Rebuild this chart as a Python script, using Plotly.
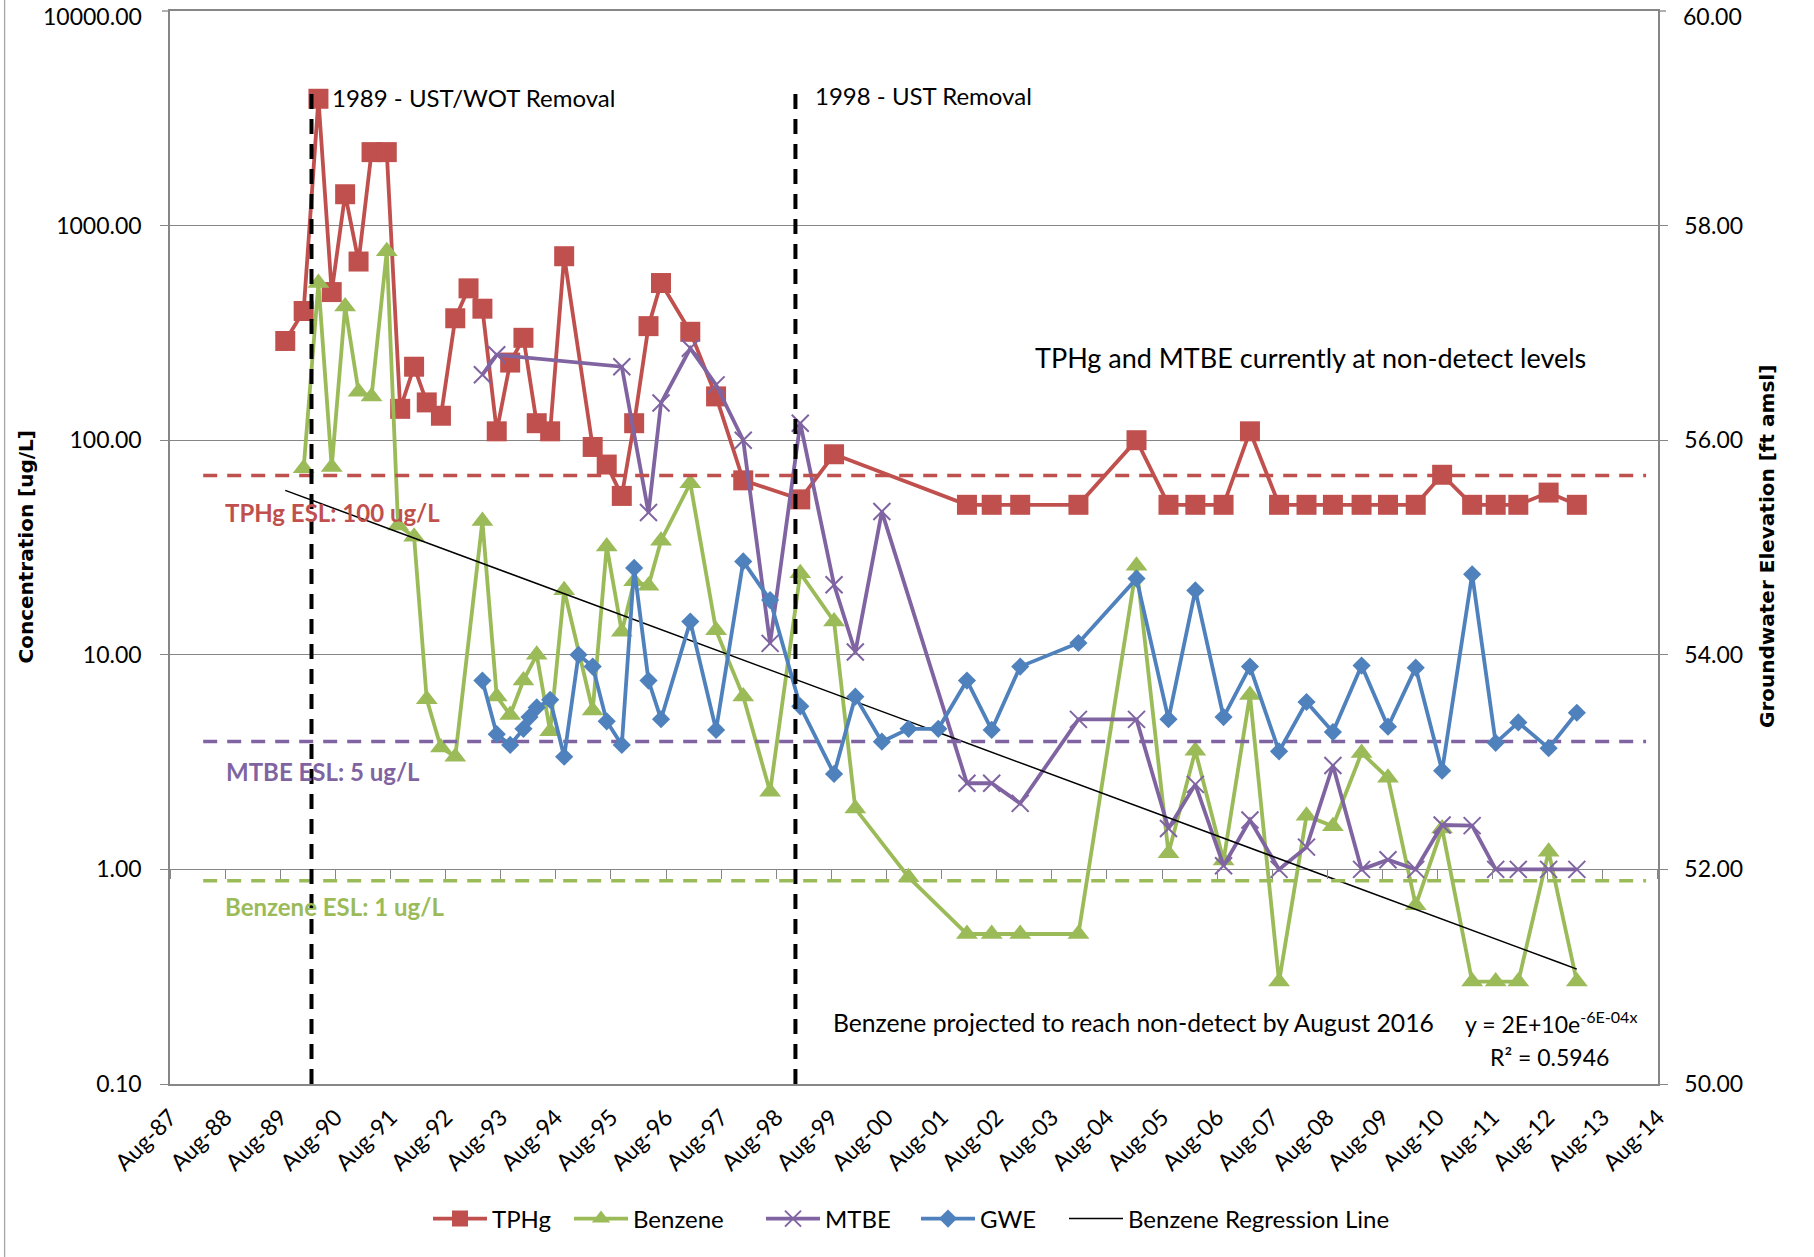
import numpy as np
import pandas as pd
import plotly.graph_objects as go

# ---------------- sampling data ----------------
tphg_dates = [
    "1989-09-02", "1990-01-02", "1990-04-10", "1990-07-07", "1990-10-04", "1991-01-01",
    "1991-03-28", "1991-07-07", "1991-10-04", "1992-01-04", "1992-03-28", "1992-06-30",
    "1992-10-03", "1992-12-30", "1993-04-01", "1993-07-05", "1993-10-02", "1993-12-29",
    "1994-03-27", "1994-06-24", "1994-09-25", "1995-04-02", "1995-07-04", "1995-10-12",
    "1996-01-02", "1996-04-06", "1996-06-28", "1997-01-08", "1997-06-28", "1997-12-25",
    "1999-01-07", "1999-08-19", "2002-01-16", "2002-06-29", "2003-01-04", "2004-01-25",
    "2005-02-13", "2005-09-13", "2006-03-10", "2006-09-13", "2007-03-07", "2007-09-16",
    "2008-03-16", "2008-09-07", "2009-03-16", "2009-09-07", "2010-03-10", "2010-09-01",
    "2011-03-19", "2011-08-22", "2012-01-19", "2012-08-07", "2013-02-10",
]
tphg_ugl = [
    290, 400, 3900, 490, 1400, 680,
    2200, 2200, 140, 220, 150, 130,
    370, 510, 410, 110, 230, 300,
    120, 110, 720, 93, 77, 55,
    120, 340, 540, 320, 160, 65,
    53, 86, 50, 50, 50, 50,
    100, 50, 50, 50, 110, 50,
    50, 50, 50, 50, 50, 69,
    50, 50, 50, 57, 50,
]

benzene_dates = [
    "1990-01-02", "1990-04-10", "1990-07-07", "1990-10-04", "1991-01-01", "1991-03-28",
    "1991-07-07", "1991-09-20", "1992-01-04", "1992-03-28", "1992-06-30", "1992-10-03",
    "1993-04-01", "1993-07-05", "1993-10-02", "1993-12-29", "1994-03-27", "1994-06-24",
    "1994-09-25", "1995-04-02", "1995-07-04", "1995-10-12", "1996-01-02", "1996-04-06",
    "1996-06-28", "1997-01-08", "1997-06-28", "1997-12-25", "1998-06-21", "1999-01-07",
    "1999-08-19", "2000-01-07", "2000-12-25", "2002-01-16", "2002-06-29", "2003-01-04",
    "2004-01-25", "2005-02-13", "2005-09-13", "2006-03-10", "2006-09-13", "2007-03-07",
    "2007-09-16", "2008-03-16", "2008-09-07", "2009-03-16", "2009-09-07", "2010-03-10",
    "2010-09-01", "2011-03-19", "2011-08-22", "2012-01-19", "2012-08-07", "2013-02-10",
]
benzene_ugl = [
    74, 540, 75, 420, 168, 160,
    760, 40, 35.5, 6.2, 3.7, 3.35,
    42, 6.4, 5.24, 7.6, 10, 4.4,
    20, 5.5, 32, 12.8, 22, 21,
    34, 63, 13, 6.4, 2.3, 24,
    14.3, 1.92, 0.92, 0.5, 0.5, 0.5,
    0.5, 26, 1.19, 3.57, 1.1, 6.5,
    0.3, 1.78, 1.59, 3.49, 2.67, 0.68,
    1.55, 0.3, 0.3, 0.3, 1.21, 0.3,
]

mtbe_dates = [
    "1993-04-01", "1993-07-05", "1995-10-12", "1996-04-06", "1996-06-28", "1997-01-08",
    "1997-06-28", "1997-12-25", "1998-06-21", "1999-01-07", "1999-08-19", "2000-01-07",
    "2000-07-01", "2002-01-16", "2002-06-29", "2003-01-04", "2004-01-25", "2005-02-13",
    "2005-09-13", "2006-03-10", "2006-09-13", "2007-03-07", "2007-09-16", "2008-03-16",
    "2008-09-07", "2009-03-16", "2009-09-07", "2010-03-10", "2010-09-01", "2011-03-19",
    "2011-08-22", "2012-01-19", "2012-08-07", "2013-02-10",
]
mtbe_ugl = [
    202, 250, 220, 46, 149, 268,
    181, 100, 11.3, 120, 21.2, 10.3,
    46.5, 2.52, 2.52, 2.03, 5.0, 5.0,
    1.55, 2.49, 1.04, 1.7, 1.0, 1.27,
    3.05, 1.0, 1.11, 1.0, 1.61, 1.6,
    1.0, 1.0, 1.0, 1.0,
]

gwe_dates = [
    "1993-04-01", "1993-07-05", "1993-10-02", "1993-12-29", "1994-02-07", "1994-03-27",
    "1994-06-24", "1994-09-25", "1994-12-29", "1995-04-02", "1995-07-04", "1995-10-12",
    "1996-01-02", "1996-04-06", "1996-06-28", "1997-01-08", "1997-06-28", "1997-12-25",
    "1998-06-21", "1999-01-07", "1999-08-19", "2000-01-07", "2000-07-01", "2000-12-25",
    "2001-07-10", "2002-01-16", "2002-06-29", "2003-01-04", "2004-01-25", "2005-02-13",
    "2005-09-13", "2006-03-10", "2006-09-13", "2007-03-07", "2007-09-16", "2008-03-16",
    "2008-09-07", "2009-03-16", "2009-09-07", "2010-03-10", "2010-09-01", "2011-03-19",
    "2011-08-22", "2012-01-19", "2012-08-07", "2013-02-10",
]
gwe_ft = [
    53.76, 53.26, 53.16, 53.31, 53.42, 53.51,
    53.58, 53.05, 54.00, 53.89, 53.38, 53.16,
    54.81, 53.76, 53.40, 54.31, 53.30, 54.87,
    54.51, 53.52, 52.89, 53.61, 53.19, 53.31,
    53.31, 53.76, 53.30, 53.89, 54.11, 54.71,
    53.40, 54.60, 53.42, 53.89, 53.10, 53.56,
    53.28, 53.90, 53.33, 53.88, 52.92, 54.75,
    53.18, 53.37, 53.13, 53.46,
]

# exponential benzene trend  y = a * exp(-b * x), x = spreadsheet day number
reg_a = 2e10
reg_b = 6e-4

# screening levels drawn as dashed guides
tphg_esl_line = 68.5
mtbe_esl_line = 3.94
benzene_esl_line = 0.885
esl_start, esl_end = "1988-03-07", "2014-05-15"

# removal events
event_dates = ["1990-02-23", "1998-12-06"]
event_labels = ["1989 - UST/WOT Removal", "1998 - UST Removal"]

# axis ticks
conc_ticks = [0.1, 1, 10, 100, 1000, 10000]
conc_ticktext = ["0.10", "1.00", "10.00", "100.00", "1000.00", "10000.00"]
gwe_ticks = [50, 52, 54, 56, 58, 60]
gwe_ticktext = ["50.00", "52.00", "54.00", "56.00", "58.00", "60.00"]

x_range = ["1987-07-31", "2014-08-02"]

# ---------------- styling ----------------
RED, GREEN, PURPLE, BLUE = "#C0504D", "#9BBB59", "#8064A2", "#4F81BD"
GRID = "#868686"
FONT = "Lato"

W, H = 1814, 1257
ML, MR, MT, MB = 170, 156, 11, 173
PW, PH = W - ML - MR, H - MT - MB
TICKLEN = 8


def px(x):
    return (x - ML) / PW


def py(y):
    return (H - MB - y) / PH


def day_number(dates):
    return np.asarray((pd.to_datetime(dates) - pd.Timestamp("1899-12-30")).days, dtype=float)


reg_dates = pd.date_range(tphg_dates[0], tphg_dates[-1], periods=80)
reg_vals = reg_a * np.exp(-reg_b * day_number(reg_dates))

fig = go.Figure()

fig.add_trace(go.Scatter(
    x=tphg_dates, y=tphg_ugl, name="TPHg", mode="lines+markers", legend="legend",
    line=dict(color=RED, width=3.8),
    marker=dict(symbol="square", size=20, color=RED, line=dict(width=0)),
))
fig.add_trace(go.Scatter(
    x=benzene_dates, y=benzene_ugl, name="Benzene", mode="lines+markers", legend="legend2",
    line=dict(color=GREEN, width=3.8),
    marker=dict(symbol="triangle-up", size=19, color=GREEN, line=dict(width=0)),
))
fig.add_trace(go.Scatter(
    x=mtbe_dates, y=mtbe_ugl, name="MTBE", mode="lines+markers", legend="legend3",
    line=dict(color=PURPLE, width=3.8),
    marker=dict(symbol="x-thin", size=17, color=PURPLE, line=dict(width=2, color=PURPLE)),
))
fig.add_trace(go.Scatter(
    x=reg_dates, y=reg_vals, name="Benzene Regression Line", mode="lines", legend="legend5",
    line=dict(color="black", width=1.5),
))

for lvl, col in [(tphg_esl_line, RED), (mtbe_esl_line, PURPLE), (benzene_esl_line, GREEN)]:
    fig.add_trace(go.Scatter(
        x=[esl_start, esl_end], y=[lvl, lvl], mode="lines", showlegend=False,
        hoverinfo="skip", line=dict(color=col, width=3.5, dash="14px,10px"),
    ))

fig.add_trace(go.Scatter(
    x=gwe_dates, y=gwe_ft, name="GWE", mode="lines+markers", legend="legend4", yaxis="y2",
    line=dict(color=BLUE, width=3.8),
    marker=dict(symbol="diamond", size=14, color=BLUE, line=dict(width=0)),
))

# carrier for the tick marks along the 1.00 line
fig.add_trace(go.Scatter(
    x=[x_range[0]], y=[None], xaxis="x2", yaxis="y", showlegend=False,
    hoverinfo="skip", mode="markers",
))

# ---------------- axes ----------------
# the topmost ticks (at the frame edge) are written as notes and small strokes
# so their labels stay inside the page
fig.update_layout(
    width=W, height=H,
    margin=dict(l=ML, r=MR, t=MT, b=MB, pad=0, autoexpand=False),
    paper_bgcolor="white", plot_bgcolor="white",
    font=dict(family=FONT, size=22, color="black"),
    xaxis=dict(
        type="date", range=x_range, tick0="1987-08-01", dtick="M12", tickformat="%b-%y",
        tickangle=-45, ticks="", showgrid=False, zeroline=False,
        showline=True, mirror=True, linecolor=GRID, linewidth=1.5, automargin=False,
        tickfont=dict(size=23), ticklabelstandoff=9, ticklabeloverflow="allow",
    ),
    xaxis2=dict(
        type="date", range=x_range, tick0="1987-08-01", dtick="M12",
        overlaying="x", anchor="free", position=0.2, side="bottom", automargin=False,
        ticks="outside", ticklen=9, tickwidth=1.3, tickcolor=GRID,
        showticklabels=False, showgrid=False, showline=False, zeroline=False,
    ),
    yaxis=dict(
        type="log", range=[-1, 4], automargin=False,
        tickvals=conc_ticks[:-1], ticktext=conc_ticktext[:-1],
        showgrid=True, gridcolor=GRID, gridwidth=1.3, zeroline=False,
        showline=True, linecolor=GRID, linewidth=1.5,
        ticks="outside", ticklen=TICKLEN, tickwidth=1.3, tickcolor=GRID,
        ticklabelstandoff=14, tickfont=dict(size=23),
    ),
    yaxis2=dict(
        overlaying="y", side="right", range=[50, 60], automargin=False,
        tickvals=gwe_ticks[:-1], ticktext=gwe_ticktext[:-1],
        showgrid=False, zeroline=False,
        showline=True, linecolor=GRID, linewidth=1.5,
        ticks="outside", ticklen=TICKLEN, tickwidth=1.3, tickcolor=GRID,
        ticklabelstandoff=12, tickfont=dict(size=23),
    ),
    showlegend=True,
)

# one legend box per entry, laid out in a row under the axis
legend_left = [428, 569, 761, 916, 1064]
for i, left in enumerate(legend_left):
    key = "legend" if i == 0 else f"legend{i + 1}"
    fig.update_layout({key: dict(
        orientation="h", x=px(left), xanchor="left", y=py(1219), yanchor="middle",
        font=dict(size=24), itemwidth=54, bgcolor="rgba(0,0,0,0)",
    )})

# ---------------- event lines, top ticks and outer frame ----------------
shapes = []
for d in event_dates:
    shapes.append(dict(
        type="line", xref="x", yref="paper", x0=d, x1=d, y0=0, y1=py(86),
        line=dict(color="black", width=4, dash="15px,10px"), layer="above",
    ))
for x0, x1 in [(ML - TICKLEN, ML), (W - MR, W - MR + TICKLEN)]:
    shapes.append(dict(
        type="line", xref="paper", yref="paper", x0=px(x0), x1=px(x1), y0=1, y1=1,
        line=dict(color=GRID, width=1.3),
    ))
shapes.append(dict(
    type="line", xref="paper", yref="paper", x0=px(4.6), x1=px(4.6), y0=py(H), y1=py(0),
    line=dict(color="#a6a6a6", width=1.3),
))
fig.update_layout(shapes=shapes)

# ---------------- text ----------------
ann = []


def note(text, x, y, size=24, color="black", bold=False, xanchor="left", angle=0,
         family=FONT, yanchor="middle"):
    ann.append(dict(
        text=f"<b>{text}</b>" if bold else text,
        xref="paper", yref="paper", x=px(x), y=py(y),
        xanchor=xanchor, yanchor=yanchor, showarrow=False, textangle=angle,
        font=dict(size=size, color=color, family=family),
    ))


note(conc_ticktext[-1], 144, 0.5, size=23, xanchor="right", yanchor="top")
note(gwe_ticktext[-1], 1681, 0.5, size=23, xanchor="left", yanchor="top")
note(event_labels[0], 330, 97.5)
note(event_labels[1], 813, 95.5)
note("TPHg and MTBE currently at non-detect levels", 1033, 358, size=27)
note("TPHg ESL: 100 ug/L", 223, 512, size=24, color=RED, bold=True)
note("MTBE ESL: 5 ug/L", 224, 771, size=24, color=PURPLE, bold=True)
note("Benzene ESL: 1 ug/L", 223, 906, size=24, color=GREEN, bold=True)
note("Benzene projected to reach non-detect by August 2016", 831, 1022, size=24.7)
note("y = 2E+10e<sup>-6E-04x</sup>", 1463, 1022, size=23)
note("R² = 0.5946", 1488, 1057, size=23)
note("Concentration [ug/L]", 25.5, 547, size=20, bold=True, xanchor="center", angle=-90,
     family="DejaVu Sans")
note("Groundwater Elevation [ft amsl]", 1767, 547, size=20, bold=True, xanchor="center",
     angle=-90, family="DejaVu Sans")
fig.update_layout(annotations=ann)

fig.write_html("out.html")
